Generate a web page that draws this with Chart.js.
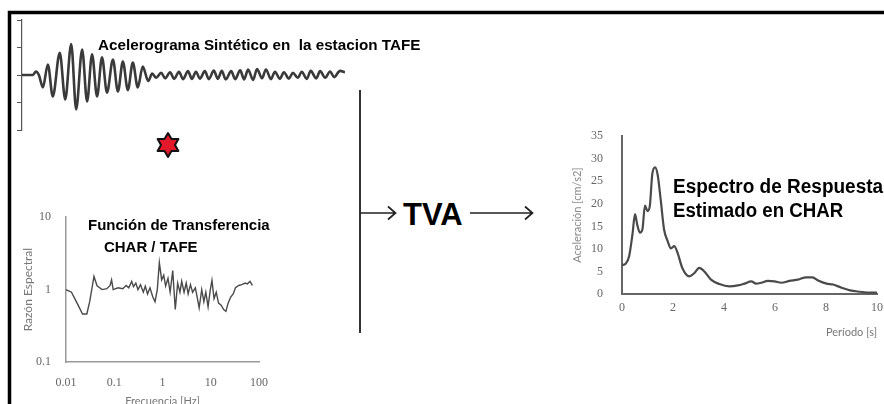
<!DOCTYPE html>
<html>
<head>
<meta charset="utf-8">
<script src="https://cdn.jsdelivr.net/npm/chart.js@4.4.1/dist/chart.umd.min.js"></script>
<style>
  html, body { margin: 0; padding: 0; background: #fff; }
  body { width: 884px; height: 404px; position: relative; overflow: hidden; }
  canvas, svg, .txt { position: absolute; }
  .txt { font-family: "Liberation Sans", Arial, sans-serif; font-weight: bold; color: #000;
         line-height: 1; white-space: pre; transform-origin: 0 0; }
</style>
</head>
<body>
<svg id="deco" width="884" height="404" style="left:0;top:0"></svg>
<canvas id="accel" width="340" height="122" style="left:12px;top:14px"></canvas>
<canvas id="transfer" width="270" height="220" style="left:12px;top:195px"></canvas>
<canvas id="spectrum" width="330" height="240" style="left:560px;top:110px"></canvas>

<div class="txt" data-w="322" style="left:98px;top:37px;font-size:15px">Acelerograma Sintético en  la estacion TAFE</div>
<div class="txt" data-w="182" style="left:88px;top:218px;font-size:14px">Función de Transferencia</div>
<div class="txt" data-w="94" style="left:104px;top:240px;font-size:14px">CHAR / TAFE</div>
<div class="txt" data-w="60" style="left:403px;top:199px;font-size:31px">TVA</div>
<div class="txt" data-w="210" style="left:673px;top:176px;font-size:20px">Espectro de Respuesta</div>
<div class="txt" data-w="170" style="left:673px;top:200px;font-size:20px">Estimado en CHAR</div>

<script>
// Acelerograma sintético (tiempo en s, amplitud relativa)
const accelTime = [0, 2.2, 2.8, 3.4, 4.2, 5.2, 6.2, 7.6, 8.7, 9.9, 10.9, 12.1, 13.1, 14.1, 15.1,
  16.1, 17.1, 18.3, 19.3, 20.3, 21.3, 22.3, 23.3, 24.3, 25.4, 26.2, 27.0, 28.0, 28.8, 29.8,
  30.6, 31.6, 32.4, 33.4, 34.2, 35.0, 35.8, 36.8, 37.6, 38.6, 39.4, 40.2, 41.0, 42.1, 42.9,
  43.9, 44.7, 45.5, 46.5, 47.3, 48.3, 49.1, 50.1, 50.9, 51.9, 52.7, 53.7, 54.5, 55.5, 56.3,
  57.3, 58.1, 59.2, 60.0, 61.0, 62.0, 62.8, 64.0, 65.0];
const accelValue = [0, 0, 0.13, 0, -0.45, 0.38, -0.78, 0.81, -0.89, 1.13, -1.25, 0.93, -0.96, 0.75, -0.78,
  0.64, -0.64, 0.56, -0.6, 0.49, -0.55, 0.45, -0.45, 0.31, -0.22, 0.05, -0.1, 0.08, -0.12, 0.1,
  -0.14, 0.12, -0.15, 0.14, -0.14, 0.12, -0.13, 0.14, -0.15, 0.16, -0.14, 0.15, -0.16, 0.14, -0.15,
  0.17, -0.16, 0.2, -0.18, 0.22, -0.12, 0.2, -0.15, 0.12, -0.14, 0.1, -0.13, 0.08, -0.1, 0.12,
  -0.14, 0.15, -0.12, 0.14, -0.1, 0.13, -0.08, 0.15, 0.1];

// Función de transferencia CHAR / TAFE
const freqHz = [0.01, 0.013, 0.0176, 0.022, 0.027, 0.031, 0.038, 0.044, 0.056, 0.07, 0.082, 0.088,
  0.095, 0.12, 0.15, 0.176, 0.2, 0.23, 0.25, 0.28, 0.31, 0.35, 0.4, 0.44, 0.49, 0.55, 0.63, 0.7,
  0.78, 0.86, 0.96, 1.06, 1.16, 1.3, 1.44, 1.63, 1.84, 2.06, 2.3, 2.5, 2.8, 3.1, 3.4, 3.8, 4.2,
  4.8, 5.3, 5.75, 6.5, 7.2, 7.9, 8.8, 9.8, 10.6, 11.7, 13, 14.5, 16.4, 18.5, 20.6, 22.9, 25.9,
  29.2, 32.5, 38, 44, 51.5, 57.5, 65, 73];
const spectralRatio = [1.0, 0.92, 0.62, 0.46, 0.46, 0.68, 1.52, 1.13, 1.0, 1.03, 1.14, 1.36,
  1.0, 1.06, 1.03, 1.14, 1.06, 1.3, 1.1, 1.23, 1.0, 1.17, 0.92, 1.12, 0.87, 1.06, 0.79, 0.68,
  1.0, 2.36, 1.36, 1.58, 1.12, 1.43, 0.92, 1.83, 0.53, 1.23, 0.92, 1.3, 0.92, 1.23, 0.87, 1.17, 0.92,
  1.06, 0.75, 0.56, 1.0, 0.68, 0.92, 0.58, 1.0, 1.34, 0.75, 0.92, 0.65, 0.61, 0.53, 0.5, 0.65, 0.79,
  0.87, 1.06, 1.14, 1.17, 1.23, 1.2, 1.3, 1.14];
const freqTicks = [0.01, 0.1, 1, 10, 100];
const ratioTicks = [0.1, 1, 10];

// Espectro de respuesta estimado en CHAR
const periodS = [0, 0.14, 0.28, 0.41, 0.51, 0.6, 0.7, 0.8, 0.9, 1.0, 1.09, 1.19, 1.3, 1.4, 1.52,
  1.65, 1.78, 1.92, 2.05, 2.18, 2.37, 2.64, 2.83, 3.03, 3.23, 3.49, 3.82, 4.21, 4.54, 4.8, 5.07,
  5.26, 5.46, 5.72, 5.98, 6.25, 6.57, 6.9, 7.23, 7.47, 7.69, 8.02, 8.28, 8.61, 8.94, 9.33, 9.72, 10];
const accelCms2 = [6.4, 6.7, 8.4, 13.2, 17.7, 15.3, 13.6, 14.3, 19.6, 18.4, 19.5, 26.7, 28.1, 26.4, 20.8,
  14.3, 11.9, 10.1, 10.6, 9.1, 5.7, 3.9, 4.6, 5.8, 5.0, 3.2, 2.2, 1.7, 1.9, 2.3, 2.8,
  2.3, 2.5, 2.9, 2.8, 2.5, 2.9, 3.2, 3.7, 3.7, 3.0, 2.3, 2.1, 1.4, 0.8, 0.5, 0.3, 0.3];

const tickFont = { family: '"Liberation Serif", serif', size: 12 };
const titleFont = { family: 'Lato, "Open Sans", sans-serif', size: 11 };
const pairs = (xs, ys) => xs.map((x, i) => ({ x: x, y: ys[i] }));
const base = {
  responsive: false,
  animation: false,
  plugins: { legend: { display: false }, tooltip: { enabled: false } },
  elements: { point: { radius: 0 } }
};
const noGrid = { display: false, drawTicks: false };

// Acelerograma
new Chart(document.getElementById('accel'), {
  type: 'line',
  data: { datasets: [{ data: pairs(accelTime, accelValue), borderColor: '#3a3a3a', borderWidth: 2.6,
    cubicInterpolationMode: 'monotone' }] },
  options: Object.assign({}, base, {
    layout: { padding: { top: 6, right: 7, bottom: 6, left: 0 } },
    scales: {
      x: { type: 'linear', min: 0, max: 65, display: false },
      y: {
        min: -2, max: 2,
        ticks: { stepSize: 1, display: false },
        grid: { drawOnChartArea: false, drawTicks: true, tickLength: 5, color: '#555' },
        border: { color: '#555', width: 1.2 },
        afterFit(s) { s.width = 10; }
      }
    }
  })
});

// Función de transferencia
new Chart(document.getElementById('transfer'), {
  type: 'line',
  data: { datasets: [{ data: pairs(freqHz, spectralRatio), borderColor: '#4a4a4a', borderWidth: 1.4, tension: 0 }] },
  options: Object.assign({}, base, {
    layout: { padding: { top: 14, right: 16, bottom: 0, left: 0 } },
    scales: {
      x: {
        type: 'logarithmic', min: 0.01, max: 100,
        afterBuildTicks(s) { s.ticks = freqTicks.map(v => ({ value: v })); },
        ticks: { callback: v => String(v), font: tickFont, color: '#666', padding: 14,
          autoSkip: false, maxRotation: 0 },
        grid: noGrid,
        border: { color: '#999', width: 1.5 },
        title: { display: true, text: 'Frecuencia [Hz]', color: '#777', font: titleFont,
          padding: { top: 0, bottom: 7 } },
        afterFit(s) { s.height = 53; }
      },
      y: {
        type: 'logarithmic', min: 0.1, max: 10,
        afterBuildTicks(s) { s.ticks = ratioTicks.map(v => ({ value: v })); },
        ticks: { callback: v => String(v), font: tickFont, color: '#666', padding: 15, autoSkip: false },
        grid: noGrid,
        border: { color: '#999', width: 1.5 },
        title: { display: true, text: 'Razón Espectral', color: '#777',
          font: { family: titleFont.family, size: 12 }, padding: { top: 9, bottom: 0 } },
        afterFit(s) { s.width = 54; }
      }
    }
  })
});

// Espectro de respuesta
new Chart(document.getElementById('spectrum'), {
  type: 'line',
  data: { datasets: [{ data: pairs(periodS, accelCms2), borderColor: '#4a4a4a', borderWidth: 2.2,
    cubicInterpolationMode: 'monotone' }] },
  options: Object.assign({}, base, {
    layout: { padding: { top: 15, right: 13, bottom: 0, left: 0 } },
    scales: {
      x: {
        type: 'linear', min: 0, max: 10,
        ticks: { stepSize: 2, font: tickFont, color: '#666', padding: 7, maxRotation: 0 },
        grid: noGrid,
        border: { color: '#666', width: 2 },
        title: { display: true, text: 'Período [s]', align: 'end', color: '#777', font: titleFont,
          padding: { top: 0, bottom: 11 } },
        afterFit(s) { s.height = 56; }
      },
      y: {
        min: 0, max: 35,
        ticks: { stepSize: 5, font: tickFont, color: '#666', padding: 19 },
        grid: noGrid,
        border: { color: '#666', width: 2 },
        title: { display: true, text: 'Aceleración [cm/s2]', color: '#888', font: titleFont,
          padding: { top: 11, bottom: 0 } },
        afterFit(s) { s.width = 62; }
      }
    }
  })
});

// Marco, flechas y estrella
const NS = 'http://www.w3.org/2000/svg';
const deco = document.getElementById('deco');
function add(tag, attrs) {
  const el = document.createElementNS(NS, tag);
  for (const k in attrs) el.setAttribute(k, attrs[k]);
  deco.appendChild(el);
}
add('path', { d: 'M9.5 404 V12.5 H884', stroke: '#000', 'stroke-width': 3.5, fill: 'none' });
add('line', { x1: 360, y1: 90, x2: 360, y2: 333, stroke: '#333', 'stroke-width': 2 });
add('path', { d: 'M360 213 H395 M388 206.5 L395.5 213 L388 219.5', stroke: '#222', 'stroke-width': 1.7, fill: 'none' });
add('path', { d: 'M470 213 H532 M525 206.5 L532.5 213 L525 219.5', stroke: '#222', 'stroke-width': 1.7, fill: 'none' });
const starPts = [];
for (let i = 0; i < 12; i++) {
  const r = i % 2 === 0 ? 12 : 7;
  const a = -Math.PI / 2 + i * Math.PI / 6;
  starPts.push((168 + r * Math.cos(a)).toFixed(1) + ',' + (145 + r * Math.sin(a)).toFixed(1));
}
add('polygon', { points: starPts.join(' '), fill: '#e3192b', stroke: '#111', 'stroke-width': 2, 'stroke-linejoin': 'round' });

// ajustar el ancho de los textos
document.querySelectorAll('.txt').forEach(el => {
  const w = Number(el.dataset.w);
  el.style.transform = 'scaleX(' + (w / el.offsetWidth).toFixed(3) + ')';
});
</script>
</body>
</html>
